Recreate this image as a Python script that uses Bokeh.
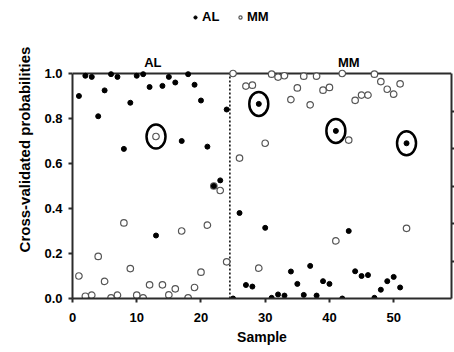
from bokeh.plotting import figure
from bokeh.models import (ColumnDataSource, Label, Legend, LegendItem,
                          LinearAxis, FixedTicker, Range1d, CustomJSTickFormatter)
from bokeh.embed import file_html
from bokeh.resources import INLINE

# ---- data ----
samples = list(range(1, 53))
al_prob = [0.90, 0.99, 0.985, 0.81, 0.925, 0.997, 0.985, 0.665, 0.87, 0.99,
           0.997, 0.94, 0.28, 0.945, 0.985, 0.96, 0.70, 0.997, 0.95, 0.88,
           0.675, 0.50, 0.525, 0.84, 0.0, 0.38, 0.06, 0.053, 0.865, 0.314,
           0.003, 0.018, 0.013, 0.12, 0.065, 0.016, 0.145, 0.013, 0.077, 0.065,
           0.745, 0.0, 0.30, 0.121, 0.10, 0.104, 0.003, 0.039, 0.077, 0.096,
           0.049, 0.69]
mm_prob = [0.10, 0.01, 0.015, 0.187, 0.076, 0.003, 0.015, 0.336, 0.133, 0.015,
           0.003, 0.061, 0.72, 0.061, 0.016, 0.043, 0.30, 0.003, 0.049, 0.117,
           0.326, 0.50, 0.48, 0.163, 1.0, 0.624, 0.944, 0.948, 0.135, 0.69,
           0.997, 0.984, 0.99, 0.884, 0.936, 0.988, 0.861, 0.988, 0.926, 0.938,
           0.256, 1.0, 0.704, 0.881, 0.904, 0.904, 0.997, 0.964, 0.93, 0.908,
           0.954, 0.312]
circled_samples = [13, 29, 41, 52]
group_boundary = 24.5
group_labels = ["AL", "MM"]
group_label_x = [12.5, 43.0]
x_ticks = [0, 10, 20, 30, 40, 50]
y_ticks = [0.0, 0.2, 0.4, 0.6, 0.8, 1.0]
right_ticks = [1/6, 2/6, 3/6, 4/6, 5/6]

FONT = "Liberation Sans"
AXC = "#2b2b2b"
X_MAX = 59
Y_MAX = 1.0
Y_TOP = 298 / 225  # headroom so legend and group titles sit inside the frame

p = figure(width=454, height=352, output_backend="svg", toolbar_location=None,
           x_range=Range1d(0, X_MAX), y_range=Range1d(0, Y_TOP),
           min_border_left=72, min_border_right=3, min_border_top=0,
           min_border_bottom=54)
p.background_fill_color = "white"
p.border_fill_color = "white"
p.grid.visible = False
p.outline_line_color = None

# top border of the plotting box and the group divider
p.segment(x0=[0], y0=[Y_MAX], x1=[X_MAX], y1=[Y_MAX], line_color=AXC,
          line_width=2)
p.segment(x0=[group_boundary], y0=[0], x1=[group_boundary], y1=[Y_MAX],
          line_color="black", line_width=1.5, line_dash="2 2")

src = ColumnDataSource(dict(x=samples, al=al_prob, mm=mm_prob))
r_mm = p.scatter("x", "mm", source=src, size=6.5, fill_color="white",
                 line_color="#555555", line_width=1.2)
r_al = p.scatter("x", "al", source=src, size=5, fill_color="black",
                 line_color="black")

cx = circled_samples
cy = [max(al_prob[s - 1], mm_prob[s - 1]) for s in circled_samples]
p.ellipse(x=cx, y=cy, width=19, height=24, width_units="screen",
          height_units="screen", fill_color=None, line_color="black",
          line_width=2.5)

for lab, gx in zip(group_labels, group_label_x):
    p.add_layout(Label(x=gx, y=Y_MAX, y_offset=11, text=lab,
                       text_align="center", text_baseline="alphabetic",
                       text_font=FONT, text_font_style="bold",
                       text_font_size="13px", text_color="black"))

# axes
xa = p.xaxis[0]
xa.ticker = FixedTicker(ticks=x_ticks)
xa.axis_label = "Sample"
ya = p.yaxis[0]
ya.ticker = FixedTicker(ticks=y_ticks)
ya.bounds = (0, Y_MAX)
ya.axis_label = "Cross-validated probabilities"
ya.formatter = CustomJSTickFormatter(code="return tick.toFixed(1);")
for ax in (xa, ya):
    ax.axis_line_color = AXC
    ax.axis_line_width = 2
    ax.major_tick_line_color = AXC
    ax.major_tick_line_width = 2
    ax.major_tick_out = 4
    ax.major_tick_in = 0
    ax.minor_tick_line_color = None
    ax.major_label_text_font = FONT
    ax.major_label_text_font_style = "bold"
    ax.major_label_text_font_size = "13px"
    ax.major_label_text_color = "black"
    ax.axis_label_text_font = FONT
    ax.axis_label_text_font_style = "bold"
    ax.axis_label_text_color = "black"
xa.axis_label_text_font_size = "14px"
ya.axis_label_text_font_size = "15px"
xa.major_label_standoff = 10
xa.axis_label_standoff = 4
ya.major_label_standoff = 6
ya.axis_label_standoff = 8

ra = LinearAxis(ticker=FixedTicker(ticks=right_ticks),
                formatter=CustomJSTickFormatter(code="return '';"))
ra.bounds = (0, Y_MAX)
ra.axis_line_color = AXC
ra.axis_line_width = 2
ra.major_tick_line_color = AXC
ra.major_tick_line_width = 2
ra.major_tick_out = 3
ra.major_tick_in = 0
ra.minor_tick_line_color = None
ra.major_label_standoff = 0
p.add_layout(ra, "right")

legend = Legend(items=[LegendItem(label="AL", renderers=[r_al]),
                       LegendItem(label="MM", renderers=[r_mm])],
                orientation="horizontal", location=(119, 274),
                label_text_font=FONT, label_text_font_style="bold",
                label_text_font_size="13px", label_text_color="black",
                glyph_width=8, glyph_height=12, label_standoff=3, spacing=14,
                padding=0, margin=0, border_line_color=None,
                background_fill_alpha=0)
p.add_layout(legend, "center")

open("out.html", "w").write(file_html(p, INLINE))
